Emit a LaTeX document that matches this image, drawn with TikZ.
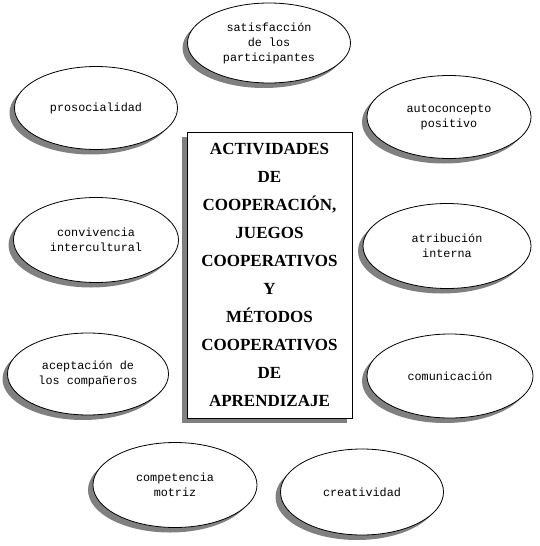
\documentclass[tikz,border=0pt]{standalone}
\usepackage{fontspec}
\setmainfont{Liberation Serif}
\setmonofont{Liberation Mono}
\usepackage{tikz}
\usetikzlibrary{shapes.geometric, shadows}

\tikzset{
  bubble/.style={draw, ellipse, fill=white, line width=0.8pt, inner sep=0pt,
    align=center, font=\ttfamily\fontsize{11.8}{15}\selectfont,
    drop shadow={shadow xshift=-5pt, shadow yshift=-5pt, fill=black!50, opacity=1}},
  mainbox/.style={draw, rectangle, fill=white, line width=0.8pt, inner sep=0pt,
    align=center, font=\bfseries\fontsize{17}{28}\selectfont,
    minimum width=165pt, minimum height=286pt,
    drop shadow={shadow xshift=-5pt, shadow yshift=-5pt, fill=black!50, opacity=1}}
}

\begin{document}
\begin{tikzpicture}[x=1pt, y=-1pt]
  \useasboundingbox (0, 0) rectangle (539, 546);

  \node[mainbox] (core) at (269.5, 275) {ACTIVIDADES\\DE\\COOPERACIÓN,\\JUEGOS\\COOPERATIVOS\\Y\\MÉTODOS\\COOPERATIVOS\\DE\\APRENDIZAJE};

  \node[bubble, minimum width=163pt, minimum height=80pt] (satis) at (269, 43) {satisfacción\\de los\\participantes};
  \node[bubble, minimum width=163pt, minimum height=83pt] (prosoc) at (96, 108) {prosocialidad};
  \node[bubble, minimum width=164pt, minimum height=83pt] (autoc) at (449, 117) {autoconcepto\\positivo};
  \node[bubble, minimum width=165pt, minimum height=85pt] (conviv) at (96, 240) {convivencia\\intercultural};
  \node[bubble, minimum width=168pt, minimum height=85pt] (atrib) at (447, 246) {atribución\\interna};
  \node[bubble, minimum width=161pt, minimum height=82pt] (acept) at (88, 374) {aceptación de\\los compañeros};
  \node[bubble, minimum width=166pt, minimum height=84pt] (comun) at (450, 376) {comunicación};
  \node[bubble, minimum width=164pt, minimum height=85pt] (compet) at (175, 485) {competencia\\motriz};
  \node[bubble, minimum width=163pt, minimum height=86pt] (creat) at (362, 492) {creatividad};
\end{tikzpicture}
\end{document}
